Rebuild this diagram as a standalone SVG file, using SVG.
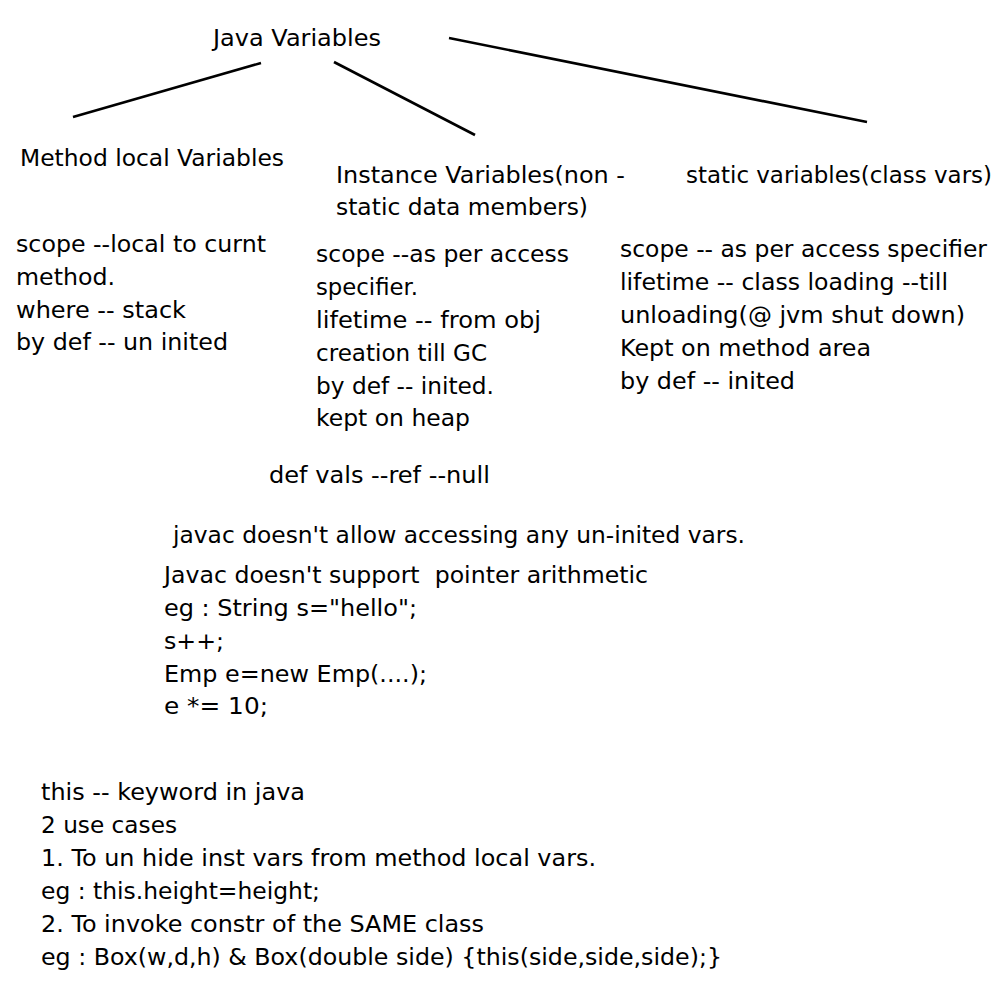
<svg xmlns="http://www.w3.org/2000/svg" width="1008" height="992" viewBox="0 0 1008 992">
<style>
text{font-family:"DejaVu Sans","Liberation Sans",sans-serif;font-size:23.5px;fill:#000}
.c line{stroke:#000;stroke-width:2.6;stroke-linecap:butt}
</style>
<rect width="1008" height="992" fill="#fff"/>
<g class="c" id="connectors">
<line x1="261" y1="63" x2="73" y2="117"/>
<line x1="334" y1="62" x2="475" y2="135"/>
<line x1="449" y1="38" x2="867" y2="122"/>
</g>
<g id="root"><text x="213" y="46" textLength="168" lengthAdjust="spacingAndGlyphs">Java Variables</text></g>
<g id="local">
<text x="20" y="166" textLength="264" lengthAdjust="spacingAndGlyphs">Method local Variables</text>
<text x="16" y="252" textLength="250" lengthAdjust="spacingAndGlyphs">scope --local to curnt</text>
<text x="16" y="285" textLength="99" lengthAdjust="spacingAndGlyphs">method.</text>
<text x="16" y="318" textLength="170" lengthAdjust="spacingAndGlyphs">where -- stack</text>
<text x="16" y="350" textLength="212" lengthAdjust="spacingAndGlyphs">by def -- un inited</text>
</g>
<g id="instance">
<text x="336" y="183" textLength="289" lengthAdjust="spacingAndGlyphs">Instance Variables(non -</text>
<text x="336" y="215" textLength="252" lengthAdjust="spacingAndGlyphs">static data members)</text>
<text x="316" y="262" textLength="253" lengthAdjust="spacingAndGlyphs">scope --as per access</text>
<text x="316" y="295" textLength="102" lengthAdjust="spacingAndGlyphs">specifier.</text>
<text x="316" y="328" textLength="225" lengthAdjust="spacingAndGlyphs">lifetime -- from obj</text>
<text x="316" y="361" textLength="171" lengthAdjust="spacingAndGlyphs">creation till GC</text>
<text x="316" y="394" textLength="178" lengthAdjust="spacingAndGlyphs">by def -- inited.</text>
<text x="316" y="426" textLength="154" lengthAdjust="spacingAndGlyphs">kept on heap</text>
</g>
<g id="static">
<text x="686" y="183" textLength="306" lengthAdjust="spacingAndGlyphs">static variables(class vars)</text>
<text x="620" y="257" textLength="367" lengthAdjust="spacingAndGlyphs">scope -- as per access specifier</text>
<text x="620" y="290" textLength="328" lengthAdjust="spacingAndGlyphs">lifetime -- class loading --till</text>
<text x="620" y="323" textLength="345" lengthAdjust="spacingAndGlyphs">unloading(@ jvm shut down)</text>
<text x="620" y="356" textLength="251" lengthAdjust="spacingAndGlyphs">Kept on method area</text>
<text x="620" y="389" textLength="175" lengthAdjust="spacingAndGlyphs">by def -- inited</text>
</g>
<g id="notes">
<text x="269" y="483" textLength="221" lengthAdjust="spacingAndGlyphs">def vals --ref --null</text>
<text x="173" y="543" textLength="572" lengthAdjust="spacingAndGlyphs">javac doesn't allow accessing any un-inited vars.</text>
<text x="164" y="583" textLength="484" lengthAdjust="spacingAndGlyphs" xml:space="preserve">Javac doesn't support  pointer arithmetic</text>
<text x="164" y="616" textLength="253" lengthAdjust="spacingAndGlyphs">eg : String s="hello";</text>
<text x="164" y="649" textLength="60" lengthAdjust="spacingAndGlyphs">s++;</text>
<text x="164" y="682" textLength="263" lengthAdjust="spacingAndGlyphs">Emp e=new Emp(....);</text>
<text x="164" y="714" textLength="104" lengthAdjust="spacingAndGlyphs">e *= 10;</text>
</g>
<g id="this">
<text x="41" y="800" textLength="264" lengthAdjust="spacingAndGlyphs">this -- keyword in java</text>
<text x="41" y="833" textLength="136" lengthAdjust="spacingAndGlyphs">2 use cases</text>
<text x="41" y="866" textLength="555" lengthAdjust="spacingAndGlyphs">1. To un hide inst vars from method local vars.</text>
<text x="41" y="899" textLength="279" lengthAdjust="spacingAndGlyphs">eg : this.height=height;</text>
<text x="41" y="932" textLength="443" lengthAdjust="spacingAndGlyphs">2. To invoke constr of the SAME class</text>
<text x="41" y="965" textLength="681" lengthAdjust="spacingAndGlyphs">eg : Box(w,d,h) &amp; Box(double side) {this(side,side,side);}</text>
</g>
</svg>
